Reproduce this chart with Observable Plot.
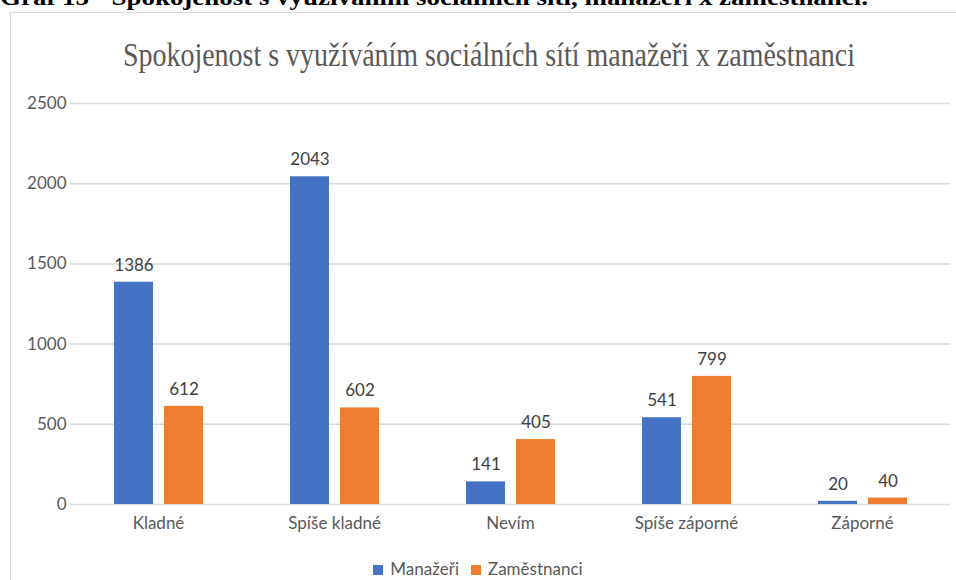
<!DOCTYPE html>
<html>
<head>
<meta charset="utf-8">
<script src="https://cdn.jsdelivr.net/npm/d3@7"></script>
<script src="https://cdn.jsdelivr.net/npm/@observablehq/plot@0.6"></script>
<style>
  html, body { margin: 0; padding: 0; background: #fff; }
  #wrap { position: relative; width: 956px; height: 580px; overflow: hidden; }
  #frame { position: absolute; left: 10px; top: 12px; width: 960px; height: 600px; border-left: 1.5px solid #d9d9d9; border-top: 1.5px solid #d9d9d9; box-sizing: border-box; }
  #chart { position: absolute; left: 0; top: 0; }
  #titles { position: absolute; left: 0; top: 0; }
  #legend { position: absolute; left: 0; width: 956px; top: 559px; text-align: center; font-family: Lato, sans-serif; font-size: 17px; line-height: 20px; color: #595959; }
  #legend span.sw { display: inline-block; width: 10px; height: 10px; margin-right: 7px; vertical-align: 0px; }
  #legend span.item { margin: 0 6px; }
</style>
</head>
<body>
<div id="wrap">
  <div id="frame"></div>
  <div id="chart"></div>
  <svg id="titles" width="956" height="90">
    <text x="0" y="5" font-family="Liberation Serif" font-weight="bold" font-size="24" fill="#000" textLength="868" lengthAdjust="spacingAndGlyphs">Graf 13 - Spokojenost s využíváním sociálních sítí, manažeři x zaměstnanci.</text>
    <text x="123" y="66" font-family="Liberation Serif" font-size="33" fill="#595959" textLength="732" lengthAdjust="spacingAndGlyphs">Spokojenost s využíváním sociálních sítí manažeři x zaměstnanci</text>
  </svg>
  <div id="legend"></div>
</div>
<script>
const categories = ["Kladné", "Spíše kladné", "Nevím", "Spíše záporné", "Záporné"];
const series = ["Manažeři", "Zaměstnanci"];
const manazeri = [1386, 2043, 141, 541, 20];
const zamestnanci = [612, 602, 405, 799, 40];
const yTicks = [0, 500, 1000, 1500, 2000, 2500];
const colors = ["#4472C4", "#ED7D31"];

const data = categories.flatMap((c, i) => [
  {cat: c, s: series[0], v: manazeri[i]},
  {cat: c, s: series[1], v: zamestnanci[i]}
]);

const chart = Plot.plot({
  width: 956,
  height: 545,
  marginLeft: 70,
  marginRight: 6,
  marginTop: 103,
  marginBottom: 41,
  style: {fontFamily: "Lato, sans-serif", fontSize: "17px", color: "#595959", background: "transparent"},
  fx: {domain: categories, padding: 0, label: null, tickSize: 0, tickPadding: 12, axis: "bottom"},
  x: {domain: series, paddingInner: 0.22, paddingOuter: 0.87, axis: null},
  y: {domain: [0, 2500], axis: null},
  color: {domain: series, range: colors},
  marks: [
    Plot.gridY(yTicks, {stroke: "#d9d9d9", strokeOpacity: 1, strokeWidth: 1.5}),
    Plot.axisY(yTicks, {tickSize: 0, tickPadding: 4, label: null, fill: "#595959", tickFormat: d => String(d)}),
    Plot.barY(data, {fx: "cat", x: "s", y: "v", fill: "s"}),
    Plot.text(data, {fx: "cat", x: "s", y: "v", text: d => String(d.v), dy: -17, fill: "#404040"})
  ]
});
document.getElementById("chart").appendChild(chart);

const legend = document.getElementById("legend");
series.forEach((s, i) => {
  const item = document.createElement("span");
  item.className = "item";
  const sw = document.createElement("span");
  sw.className = "sw";
  sw.style.background = colors[i];
  item.appendChild(sw);
  item.appendChild(document.createTextNode(s));
  legend.appendChild(item);
});
</script>
</body>
</html>
